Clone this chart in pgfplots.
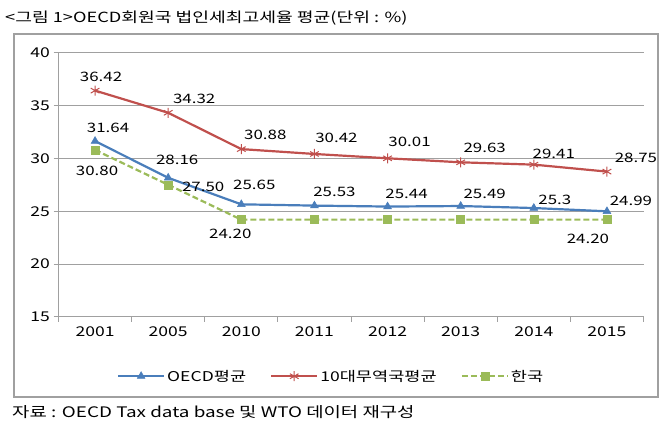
\documentclass[border=0pt]{standalone}
\usepackage{pgfplots}
\pgfplotsset{compat=1.18}
\usepackage{fontspec}
\setmainfont{Noto Sans CJK KR}[FakeStretch=1.3]
\usetikzlibrary{plotmarks}
\definecolor{cblue}{RGB}{74,126,187}
\definecolor{cred}{RGB}{192,80,77}
\definecolor{cgreen}{RGB}{155,187,89}
\definecolor{frame}{RGB}{160,160,160}
\pgfplotstableread{
x oecd top kor
0 31.64 36.42 30.80
1 28.16 34.32 27.50
2 25.65 30.88 24.20
3 25.53 30.42 24.20
4 25.44 30.01 24.20
5 25.49 29.63 24.20
6 25.30 29.41 24.20
7 24.99 28.75 24.20
}\data
\begin{document}
\begin{tikzpicture}[x=1pt,y=1pt]
\path[use as bounding box] (0,0) rectangle (670,-425);
\node[anchor=west,inner sep=0pt,font=\fontsize{14}{14}\selectfont] at (5,-18) {<그림 1>OECD회원국 법인세최고세율 평균(단위 : \%)};
\draw[frame, line width=1.2pt] (14,-34) rectangle (658,-397);
\node[anchor=west,inner sep=0pt,font=\fontsize{14.5}{14.5}\selectfont] at (12,-412) {자료 : OECD Tax data base 및 WTO 데이터 재구성};
\begin{axis}[
  at={(80,-300)}, anchor=south west, scale only axis,
  width=585pt, height=264pt,
  xmin=-0.5, xmax=7.5, ymin=15, ymax=40,
  ytick={15,20,25,30,35,40},
  xtick={-0.5,0.5,...,7.5},
  xticklabels={},
  extra x ticks={0,...,7},
  extra x tick labels={2001,2005,2010,2011,2012,2013,2014,2015},
  extra x tick style={major tick length=0pt, grid=none},
  major tick length=5pt,
  tick align=outside,
  tick style={frame, line width=0.8pt},
  axis x line*=bottom, axis y line*=left,
  axis line style={frame, line width=0.8pt, -},
  ymajorgrids, grid style={frame, line width=0.8pt},
  ticklabel style={font=\fontsize{13.5}{13.5}\selectfont},
  xticklabel style={yshift=-6pt},
  /pgf/number format/assume math mode=true,
  legend style={at={(0.466,-0.225)}, anchor=center, draw=none, fill=none,
    font=\fontsize{13.5}{13.5}\selectfont,
    /tikz/every even column/.append style={column sep=22pt}},
  legend columns=3, legend cell align=left,
  legend image code/.code={\draw[mark repeat=2,mark phase=2,#1] plot coordinates {(0pt,0pt) (23pt,0pt) (46pt,0pt)};},
  clip=false,
]
\addplot[cblue, line width=2.2pt, mark=triangle*, mark size=4.5pt, mark options={solid, line width=0.5pt}] table[x=x,y=oecd] {\data};
\addlegendentry{OECD평균}
\addplot[cred, line width=2.2pt, mark=asterisk, mark size=5pt, mark options={solid, line width=1pt}] table[x=x,y=top] {\data};
\addlegendentry{10대무역국평균}
\addplot[cgreen, line width=2.2pt, dash pattern=on 6pt off 3pt, mark=square*, mark size=4pt, mark options={solid, line width=0.5pt}] table[x=x,y=kor] {\data};
\addlegendentry{한국}
\begin{scope}[every node/.style={font=\fontsize{13}{13}\selectfont, inner sep=0pt}]
% red labels
\node[xshift=6pt,yshift=14pt] at (axis cs:0,36.42) {36.42};
\node[xshift=26pt,yshift=14pt] at (axis cs:1,34.32) {34.32};
\node[xshift=24pt,yshift=14pt] at (axis cs:2,30.88) {30.88};
\node[xshift=22pt,yshift=16pt] at (axis cs:3,30.42) {30.42};
\node[xshift=22pt,yshift=16pt] at (axis cs:4,30.01) {30.01};
\node[xshift=24pt,yshift=14pt] at (axis cs:5,29.63) {29.63};
\node[xshift=20pt,yshift=11pt] at (axis cs:6,29.41) {29.41};
\node[xshift=29pt,yshift=14pt] at (axis cs:7,28.75) {28.75};
% blue labels
\node[xshift=13pt,yshift=13pt] at (axis cs:0,31.64) {31.64};
\node[xshift=9pt,yshift=18pt] at (axis cs:1,28.16) {28.16};
\node[xshift=13pt,yshift=19pt] at (axis cs:2,25.65) {25.65};
\node[xshift=20pt,yshift=14pt] at (axis cs:3,25.53) {25.53};
\node[xshift=19pt,yshift=13pt] at (axis cs:4,25.44) {25.44};
\node[xshift=24pt,yshift=12pt] at (axis cs:5,25.49) {25.49};
\node[xshift=21pt,yshift=8pt] at (axis cs:6,25.30) {25.3};
\node[xshift=24pt,yshift=10pt] at (axis cs:7,24.99) {24.99};
% green labels
\node[xshift=2pt,yshift=-21pt] at (axis cs:0,30.80) {30.80};
\node[xshift=35pt,yshift=-2pt] at (axis cs:1,27.50) {27.50};
\node[xshift=-11pt,yshift=-14pt] at (axis cs:2,24.20) {24.20};
\node[xshift=-19pt,yshift=-19pt] at (axis cs:7,24.20) {24.20};
\end{scope}
\end{axis}
\end{tikzpicture}
\end{document}
